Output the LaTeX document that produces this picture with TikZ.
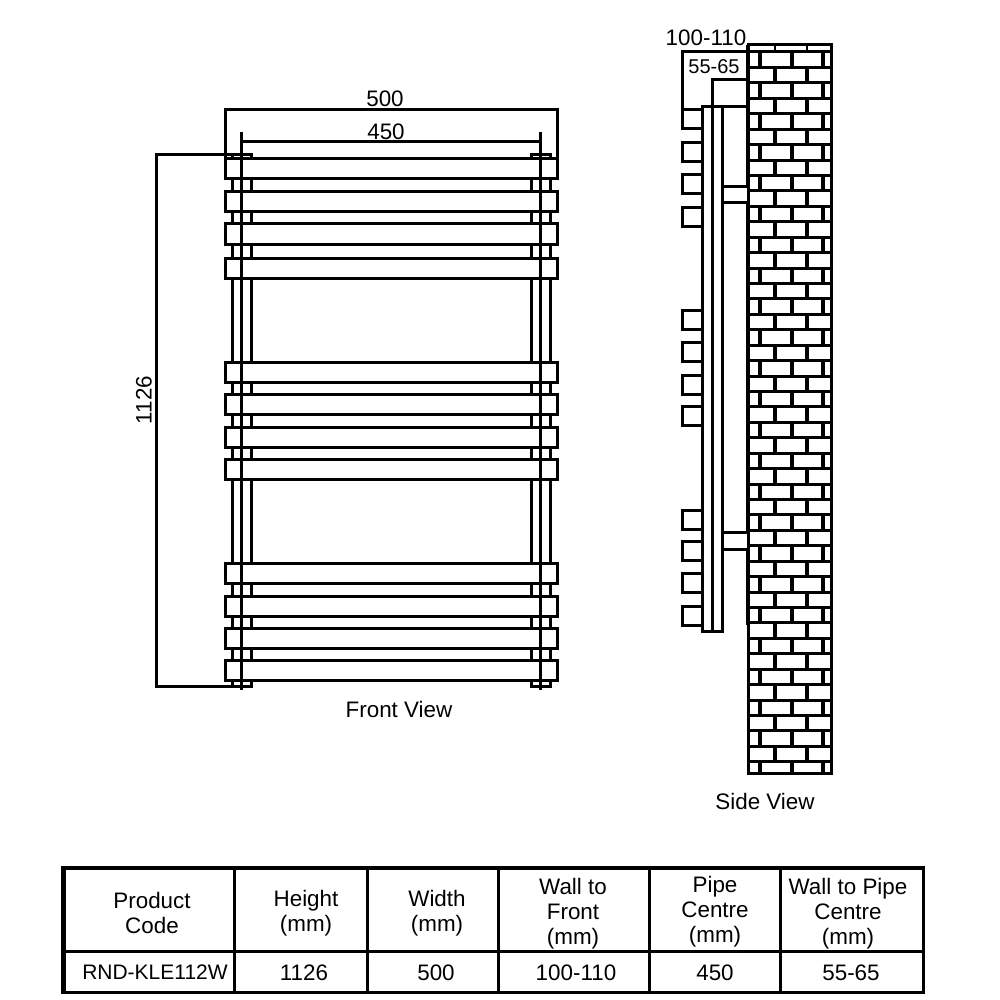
\documentclass[tikz,border=0pt]{standalone}
\usepackage{fontspec}
\setmainfont{Liberation Sans}
\begin{document}
\begin{tikzpicture}[
  x=1pt,y=-1pt,
  every node/.style={align=center,font=\fontsize{22.4}{25}\selectfont,inner sep=0pt},
  part/.style={line width=3pt,fill=white},
  dim/.style={line width=3pt},
  brick/.style={line width=3pt},
  joint/.style={line width=3.6pt},
  frame/.style={line width=4.4pt},
  rule/.style={line width=3pt}]

  \useasboundingbox (0,0) rectangle (1000,1000);

  % Front view: the two columns first, the bars over them
  \foreach \cx in {241,540} {
    \draw[part] (\cx-9,155) rectangle (\cx+10,686);
  }
  \foreach \by in {159,192,224,258,362,394,427,459,563,596,628,660} {
    \draw[part] (225,\by) rectangle (557,\by+20);
  }
  \foreach \cx in {241,540} {
    \draw[dim] (\cx,132) -- (\cx,690);
  }

  % Dimensions of the front view
  \draw[dim] (225,159) -- (225,110) -- (557,110) -- (557,159);
  \draw[dim] (241,142) -- (540,142);
  \draw[dim] (251,155) -- (156,155) -- (156,686) -- (251,686);
  \node (width_all) at (385,99) {500};
  \node (width_pipe) at (386,132) {450};
  \node[rotate=90] (height_all) at (144,400) {1126};
  \node (front_view) at (399,709) {Front View};

  % Side view: the wall, brick by brick
  \foreach \k [evaluate=\k as \ry using 52+15.43*\k] in {0,2,...,44} {
    \draw[brick] (748,\ry) -- (831,\ry);
    \draw[brick] (748,\ry+15.43) -- (831,\ry+15.43);
    \foreach \bx in {760,792,823} {
      \draw[joint] (\bx,\ry) -- (\bx,\ry+15.43);
    }
    \foreach \bx in {775,807} {
      \draw[joint] (\bx,\ry+15.43) -- (\bx,\ry+30.86);
    }
  }
  \draw[brick] (748,761.8) -- (831,761.8);
  \foreach \bx in {760,792,823} {
    \draw[joint] (\bx,761.8) -- (\bx,773);
  }
  \foreach \bx in {775,807} {
    \draw[line width=1.5pt] (\bx,45) -- (\bx,52);
  }
  \draw[brick] (748,45) rectangle (831,773);
  \draw[frame] (748,45) -- (748,625);

  % Side view: the radiator
  \foreach \by in {110,143,175,208,310,342,375,406,510,541,573,606} {
    \draw[part] (682,\by) rectangle (702,\by+19);
  }
  \draw[part] (702,107) rectangle (722,631);
  \draw[part] (722,107) -- (748,107);
  \draw[part] (722,187) rectangle (748,203);
  \draw[part] (722,532) rectangle (748,549);

  % Dimensions of the side view
  \draw[dim] (682,110) -- (682,52) -- (748,52);
  \draw[dim] (712,631) -- (712,80) -- (748,80);
  \node (wall_front) at (706,38) {100-110};
  \node[font=\fontsize{20}{24}\selectfont] (wall_pipe) at (714,67) {55-65};
  \node (side_view) at (765,801) {Side View};

  % Table
  \draw[rule] (62,867) rectangle (923,992);
  \draw[line width=5pt] (63.5,866) -- (63.5,993);
  \draw[line width=4pt] (61,868) -- (924,868);
  \draw[rule] (62,951) -- (923,951);
  \foreach \tx in {234,367,498,649,780} {
    \draw[rule] (\tx,867) -- (\tx,992);
  }
  \node (head_code) at (152,913) {Product\\Code};
  \node (head_height) at (306,913) {Height\\(mm)};
  \node (head_width) at (437,913) {Width\\(mm)};
  \node (head_front) at (573,914) {Wall to\\Front\\(mm)};
  \node (head_pipe) at (715,912) {Pipe\\Centre\\(mm)};
  \node (head_wall) at (848,914) {Wall to Pipe\\Centre\\(mm)};
  \node[font=\fontsize{21}{25}\selectfont] (val_code) at (155,972) {RND-KLE112W};
  \node (val_height) at (304,973) {1126};
  \node (val_width) at (436,973) {500};
  \node (val_front) at (576,973) {100-110};
  \node (val_pipe) at (715,973) {450};
  \node (val_wall) at (851,973) {55-65};
\end{tikzpicture}
\end{document}
